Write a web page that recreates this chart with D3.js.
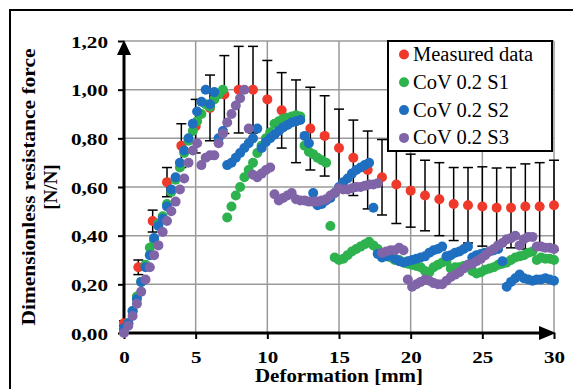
<!DOCTYPE html>
<html>
<head>
<meta charset="utf-8">
<script src="https://cdn.jsdelivr.net/npm/d3@7"></script>
<style>
body { margin: 0; background: #fff; }
text { font-family: "Liberation Serif", "Times New Roman", serif; fill: #000; }
</style>
</head>
<body>
<script>
// measured data (every mm) with error bars
const measX = [0, 1, 2, 3, 4, 5, 6, 7, 8, 9, 10, 11, 12, 13, 14, 15, 16, 17, 18, 19, 20, 21, 22, 23, 24, 25, 26, 27, 28, 29, 30];
const measY = [0.04, 0.27, 0.46, 0.62, 0.77, 0.85, 0.925, 0.98, 1.00, 1.00, 0.96, 0.915, 0.87, 0.84, 0.81, 0.76, 0.72, 0.67, 0.64, 0.61,
    0.585, 0.565, 0.55, 0.53, 0.525, 0.52, 0.515, 0.515, 0.52, 0.52, 0.525];
const measErr = [0.01, 0.03, 0.045, 0.06, 0.09, 0.11, 0.135, 0.16, 0.178, 0.178, 0.16, 0.155, 0.17, 0.17, 0.165, 0.16, 0.155, 0.16, 0.155, 0.16,
    0.15, 0.145, 0.15, 0.15, 0.155, 0.163, 0.163, 0.165, 0.175, 0.18, 0.185];

// simulated deformation steps
const simX = [0, 0.3, 0.6, 0.9, 1.2, 1.5, 1.8, 2.1, 2.4, 2.7, 3, 3.3, 3.6, 3.9, 4.2, 4.5, 4.8, 5.1, 5.4, 5.7,
    6, 6.3, 6.6, 6.9, 7.2, 7.5, 7.8, 8.1, 8.4, 8.7, 9, 9.3, 9.6, 9.9, 10.2, 10.5, 10.8, 11.1, 11.4, 11.7,
    12, 12.3, 12.6, 12.9, 13.2, 13.5, 13.8, 14.1, 14.4, 14.7, 15, 15.3, 15.6, 15.9, 16.2, 16.5, 16.8, 17.1, 17.4, 17.7,
    18, 18.3, 18.6, 18.9, 19.2, 19.5, 19.8, 20.1, 20.4, 20.7, 21, 21.3, 21.6, 21.9, 22.2, 22.5, 22.8, 23.1, 23.4, 23.7,
    24, 24.3, 24.6, 24.9, 25.2, 25.5, 25.8, 26.1, 26.4, 26.7, 27, 27.3, 27.6, 27.9, 28.2, 28.5, 28.8, 29.1, 29.4, 29.7, 30];

const s1 = [0.01, 0.04, 0.09, 0.15, 0.21, 0.28, 0.35, 0.38, 0.45, 0.48, 0.53, 0.58, 0.63, 0.68, 0.74, 0.79, 0.83, 0.87, 0.90, 0.94,
    0.93, 0.96, 0.98, 1.00, 0.475, 0.52, 0.565, 0.60, 0.64, 0.67, 0.70, 0.74, 0.77, 0.80, 0.825, 0.86, 0.87, 0.88, 0.885, 0.89,
    0.895, 0.89, 0.77, 0.745, 0.735, 0.72, 0.71, 0.70, 0.44, 0.31, 0.30, 0.305, 0.32, 0.335, 0.345, 0.355, 0.365, 0.375, 0.36, 0.345,
    0.33, 0.32, 0.31, 0.30, 0.30, 0.29, 0.285, 0.28, 0.275, 0.27, 0.255, 0.25, 0.27, 0.28, 0.29, 0.295, 0.265, 0.27, 0.27, 0.275,
    0.28, 0.255, 0.245, 0.25, 0.26, 0.265, 0.27, 0.28, 0.285, 0.29, 0.30, 0.31, 0.315, 0.32, 0.33, 0.335, 0.30, 0.31, 0.305, 0.305, 0.30];

const s2 = [0.02, 0.04, 0.09, 0.14, 0.21, 0.27, 0.32, 0.39, 0.44, 0.47, 0.52, 0.59, 0.64, 0.70, 0.75, 0.80, 0.86, 0.91, 0.95, 1.00,
    0.94, 0.99, 0.80, 0.83, 0.69, 0.70, 0.72, 0.74, 0.76, 0.78, 0.80, 0.84, 0.76, 0.785, 0.80, 0.815, 0.83, 0.845, 0.855, 0.865,
    0.87, 0.875, 0.81, 0.78, 0.575, 0.525, 0.53, 0.545, 0.555, 0.575, 0.60, 0.62, 0.635, 0.655, 0.67, 0.68, 0.69, 0.70, 0.515, 0.325,
    0.31, 0.315, 0.32, 0.305, 0.295, 0.29, 0.295, 0.30, 0.305, 0.31, 0.315, 0.33, 0.34, 0.345, 0.355, 0.315, 0.32, 0.33, 0.335, 0.345,
    0.355, 0.31, 0.32, 0.325, 0.33, 0.335, 0.34, 0.345, 0.295, 0.19, 0.21, 0.225, 0.24, 0.225, 0.22, 0.215, 0.22, 0.22, 0.225, 0.22, 0.215];

const s3 = [0.00, 0.03, 0.07, 0.12, 0.17, 0.22, 0.27, 0.32, 0.36, 0.415, 0.46, 0.50, 0.54, 0.59, 0.635, 0.70, 0.75, 0.78, 0.69, 0.72,
    0.73, 0.73, 0.78, 0.82, 0.865, 0.90, 0.935, 0.965, 1.00, 0.84, 0.65, 0.64, 0.655, 0.67, 0.68, 0.57, 0.545, 0.555, 0.565, 0.575,
    0.55, 0.545, 0.545, 0.54, 0.54, 0.54, 0.545, 0.55, 0.565, 0.575, 0.595, 0.59, 0.59, 0.595, 0.60, 0.60, 0.605, 0.61, 0.61, 0.615,
    0.33, 0.335, 0.34, 0.34, 0.35, 0.34, 0.22, 0.19, 0.20, 0.21, 0.22, 0.215, 0.205, 0.20, 0.20, 0.215, 0.23, 0.24, 0.25, 0.265,
    0.28, 0.285, 0.295, 0.305, 0.32, 0.335, 0.345, 0.36, 0.37, 0.385, 0.39, 0.40, 0.36, 0.385, 0.395, 0.395, 0.355, 0.355, 0.35, 0.35, 0.345];

const seriesNames = ["Measured data", "CoV 0.2 S1", "CoV 0.2 S2", "CoV 0.2 S3"];
const seriesColors = ["#ef3a2b", "#2db24e", "#1f6fc1", "#8064a8"];

const xTicks = [0, 5, 10, 15, 20, 25, 30];
const yTicks = [0, 0.2, 0.4, 0.6, 0.8, 1.0, 1.2];

const width = 573;
const height = 389;

const svg = d3.select("body").append("svg")
    .attr("width", width)
    .attr("height", height);

svg.append("rect").attr("width", width).attr("height", height).attr("fill", "#fff");

// outer frame (runs off the right and bottom edges)
svg.append("rect")
    .attr("x", 10).attr("y", 10)
    .attr("width", 700).attr("height", 500)
    .attr("fill", "none").attr("stroke", "#000").attr("stroke-width", 2);

const x = d3.scaleLinear().domain([0, 30]).range([124, 554]);
const y = d3.scaleLinear().domain([0, 1.2]).range([333, 41]);

// grid
svg.append("g").selectAll("line")
    .data(xTicks.slice(1))
    .join("line")
    .attr("x1", d => x(d)).attr("x2", d => x(d))
    .attr("y1", y(1.2)).attr("y2", y(0))
    .attr("stroke", "#9a9a9a").attr("stroke-width", 1.5);

svg.append("g").selectAll("line")
    .data(yTicks.slice(1))
    .join("line")
    .attr("x1", x(0)).attr("x2", x(30))
    .attr("y1", d => y(d)).attr("y2", d => y(d))
    .attr("stroke", "#9a9a9a").attr("stroke-width", 1.5);

// axes
const gx = svg.append("g")
    .attr("transform", `translate(0,${y(0)})`)
    .call(d3.axisBottom(x).tickValues(xTicks).tickSize(6).tickPadding(12).tickFormat(d => d));
gx.select(".domain").remove();
gx.selectAll(".tick line").attr("stroke", "#000").attr("stroke-width", 2);
gx.selectAll(".tick text")
    .attr("font-family", "Liberation Serif").attr("font-size", 17).attr("font-weight", "bold")
    .attr("textLength", d => String(d).length * 10.5).attr("lengthAdjust", "spacingAndGlyphs");

const gy = svg.append("g")
    .attr("transform", `translate(${x(0)},0)`)
    .call(d3.axisLeft(y).tickValues(yTicks).tickSize(6).tickPadding(10)
        .tickFormat(d => d.toFixed(2).replace(".", ",")));
gy.select(".domain").remove();
gy.selectAll(".tick line").attr("stroke", "#000").attr("stroke-width", 2);
gy.selectAll(".tick text")
    .attr("font-family", "Liberation Serif").attr("font-size", 17).attr("font-weight", "bold")
    .attr("dy", "0.36em")
    .attr("textLength", 37).attr("lengthAdjust", "spacingAndGlyphs");

// axis lines with arrow heads
svg.append("line")
    .attr("x1", x(0)).attr("x2", x(0))
    .attr("y1", y(0) + 1).attr("y2", y(1.2) + 12)
    .attr("stroke", "#000").attr("stroke-width", 3);
svg.append("path")
    .attr("d", `M${x(0)},${y(1.2) - 1} L${x(0) - 7},${y(1.2) + 14} L${x(0) + 7},${y(1.2) + 14} Z`)
    .attr("fill", "#000");

svg.append("line")
    .attr("x1", x(0) - 1).attr("x2", x(30) - 12)
    .attr("y1", y(0)).attr("y2", y(0))
    .attr("stroke", "#000").attr("stroke-width", 3);
svg.append("path")
    .attr("d", `M${x(30) + 2},${y(0)} L${x(30) - 15},${y(0) - 7} L${x(30) - 15},${y(0) + 7} Z`)
    .attr("fill", "#000");

// axis titles
svg.append("text")
    .attr("transform", `translate(${(x(0) + x(30)) / 2},382)`)
    .attr("text-anchor", "middle")
    .attr("font-size", 18).attr("font-weight", "bold")
    .attr("textLength", 168).attr("lengthAdjust", "spacingAndGlyphs")
    .text("Deformation [mm]");

const yMid = (y(0) + y(1.2)) / 2;
svg.append("text")
    .attr("transform", `translate(35,${yMid}) rotate(-90)`)
    .attr("text-anchor", "middle")
    .attr("font-size", 19).attr("font-weight", "bold")
    .attr("textLength", 277).attr("lengthAdjust", "spacingAndGlyphs")
    .text("Dimensionless resistance force");
svg.append("text")
    .attr("transform", `translate(57,${yMid}) rotate(-90)`)
    .attr("text-anchor", "middle")
    .attr("font-size", 19).attr("font-weight", "bold")
    .text("[N/N]");

// error bars
const measured = measX.map((d, i) => ({ x: d, y: measY[i], e: measErr[i] }));
const eb = svg.append("g").attr("stroke", "#000").attr("stroke-width", 1.5);
eb.selectAll(".bar").data(measured).join("line")
    .attr("x1", d => x(d.x)).attr("x2", d => x(d.x))
    .attr("y1", d => y(d.y - d.e)).attr("y2", d => y(d.y + d.e));
eb.selectAll(".capTop").data(measured).join("line").attr("class", "capTop")
    .attr("x1", d => x(d.x) - 5).attr("x2", d => x(d.x) + 5)
    .attr("y1", d => y(d.y + d.e)).attr("y2", d => y(d.y + d.e));
eb.selectAll(".capBot").data(measured).join("line").attr("class", "capBot")
    .attr("x1", d => x(d.x) - 5).attr("x2", d => x(d.x) + 5)
    .attr("y1", d => y(d.y - d.e)).attr("y2", d => y(d.y - d.e));

// points
const allSeries = [
    measured,
    simX.map((d, i) => ({ x: d, y: s1[i] })),
    simX.map((d, i) => ({ x: d, y: s2[i] })),
    simX.map((d, i) => ({ x: d, y: s3[i] })),
];

allSeries.forEach((data, k) => {
    svg.append("g").selectAll("circle")
        .data(data)
        .join("circle")
        .attr("cx", d => x(d.x))
        .attr("cy", d => y(d.y))
        .attr("r", 5)
        .attr("fill", seriesColors[k]);
});

// legend
const legend = svg.append("g");
legend.append("rect")
    .attr("x", 388).attr("y", 41)
    .attr("width", 164).attr("height", 110)
    .attr("fill", "#fff").attr("stroke", "#000").attr("stroke-width", 2);

const items = legend.selectAll(".item")
    .data(seriesNames)
    .join("g")
    .attr("transform", (d, i) => `translate(404,${54.5 + i * 27.8})`);
items.append("circle").attr("r", 5).attr("fill", (d, i) => seriesColors[i]);
items.append("text")
    .attr("x", 9).attr("y", 6.5)
    .attr("font-size", 20.5)
    .text(d => d);
</script>
</body>
</html>
